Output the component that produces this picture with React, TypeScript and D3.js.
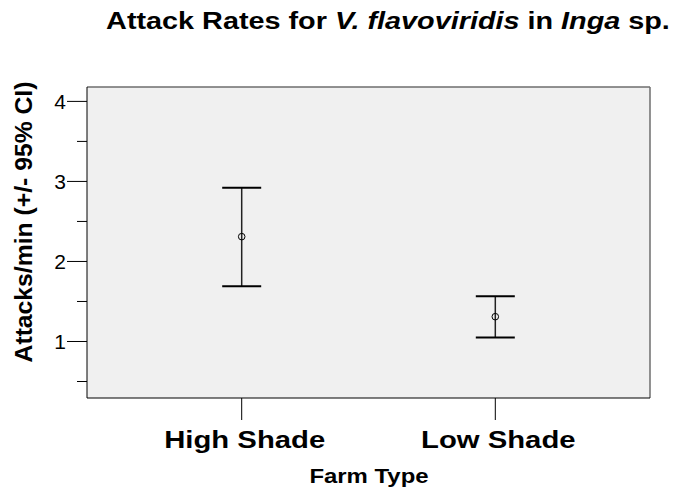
import React from "react";
import * as d3 from "d3";

// Attack rates per farm type: mean and 95% confidence interval
const farmTypes = ["High Shade", "Low Shade"];
const means = [2.31, 1.31];
const ciLower = [1.69, 1.05];
const ciUpper = [2.92, 1.565];
const majorTicks = [1, 2, 3, 4];
const minorTicks = [0.5, 1.5, 2.5, 3.5];

const W = 681;
const H = 493;
const plot = { left: 87, right: 650, top: 87, bottom: 398 };
const FONT = "'Liberation Sans', Arial, Helvetica, sans-serif";

export default function App() {
  const y = d3.scaleLinear().domain([0.294, 4.18]).range([plot.bottom, plot.top]);
  const x = d3
    .scalePoint<string>()
    .domain(farmTypes)
    .range([plot.left, plot.right])
    .padding(0.61);

  const capHalf = 19.5;

  return (
    <svg width={W} height={H} style={{ position: "absolute", left: 0, top: 0, background: "#fff" }}>
      {/* title, set slightly wide */}
      <text
        transform="translate(388, 29) scale(1.2, 1)"
        textAnchor="middle"
        fontFamily={FONT}
        fontWeight="bold"
        fontSize={24}
        fill="#000"
      >
        Attack Rates for <tspan fontStyle="italic">V. flavoviridis</tspan> in{" "}
        <tspan fontStyle="italic">Inga</tspan> sp.
      </text>

      {/* plot frame */}
      <rect
        x={plot.left}
        y={plot.top}
        width={plot.right - plot.left}
        height={plot.bottom - plot.top}
        fill="#f0f0f0"
      />
      <line x1={plot.left} x2={plot.right} y1={plot.top} y2={plot.top} stroke="#6e6e6e" strokeWidth={1.5} />
      <line x1={plot.right} x2={plot.right} y1={plot.top} y2={plot.bottom} stroke="#6e6e6e" strokeWidth={1.5} />
      <line x1={plot.left} x2={plot.left} y1={plot.top} y2={plot.bottom} stroke="#000" strokeWidth={1} />
      <line x1={plot.left} x2={plot.right} y1={plot.bottom} y2={plot.bottom} stroke="#000" strokeWidth={1} />

      {/* y axis ticks */}
      {majorTicks.map((t) => (
        <g key={"M" + t}>
          <line x1={plot.left - 20} x2={plot.left} y1={y(t)} y2={y(t)} stroke="#000" strokeWidth={1} />
          <text
            x={plot.left - 21}
            y={y(t)}
            dy="0.36em"
            textAnchor="end"
            fontFamily={FONT}
            fontSize={21}
            fill="#000"
          >
            {t}
          </text>
        </g>
      ))}
      {minorTicks.map((t) => (
        <line key={"m" + t} x1={plot.left - 10} x2={plot.left} y1={y(t)} y2={y(t)} stroke="#000" strokeWidth={1} />
      ))}

      {/* x axis ticks and labels */}
      {farmTypes.map((c) => (
        <g key={c}>
          <line x1={x(c)} x2={x(c)} y1={plot.bottom} y2={plot.bottom + 22} stroke="#000" strokeWidth={1} />
          <text
            transform={`translate(${(x(c) as number) + 3}, 448) scale(1.22, 1)`}
            textAnchor="middle"
            fontFamily={FONT}
            fontWeight="bold"
            fontSize={24}
            fill="#000"
          >
            {c}
          </text>
        </g>
      ))}

      {/* axis titles */}
      <text
        transform="translate(369, 483) scale(1.14, 1)"
        textAnchor="middle"
        fontFamily={FONT}
        fontWeight="bold"
        fontSize={21}
        fill="#000"
      >
        Farm Type
      </text>
      <text
        transform="translate(32, 222) rotate(-90) scale(1.03, 1)"
        textAnchor="middle"
        fontFamily={FONT}
        fontWeight="bold"
        fontSize={24}
        fill="#000"
      >
        Attacks/min (+/- 95% CI)
      </text>

      {/* error bars */}
      {farmTypes.map((c, i) => {
        const cx = x(c) as number;
        return (
          <g key={"e" + c}>
            <line x1={cx} x2={cx} y1={y(ciUpper[i])} y2={y(ciLower[i])} stroke="#222" strokeWidth={1.5} />
            <line x1={cx - capHalf} x2={cx + capHalf} y1={y(ciUpper[i])} y2={y(ciUpper[i])} stroke="#000" strokeWidth={2} />
            <line x1={cx - capHalf} x2={cx + capHalf} y1={y(ciLower[i])} y2={y(ciLower[i])} stroke="#000" strokeWidth={2} />
            <circle cx={cx} cy={y(means[i])} r={3.3} fill="none" stroke="#000" strokeWidth={1} />
          </g>
        );
      })}
    </svg>
  );
}
